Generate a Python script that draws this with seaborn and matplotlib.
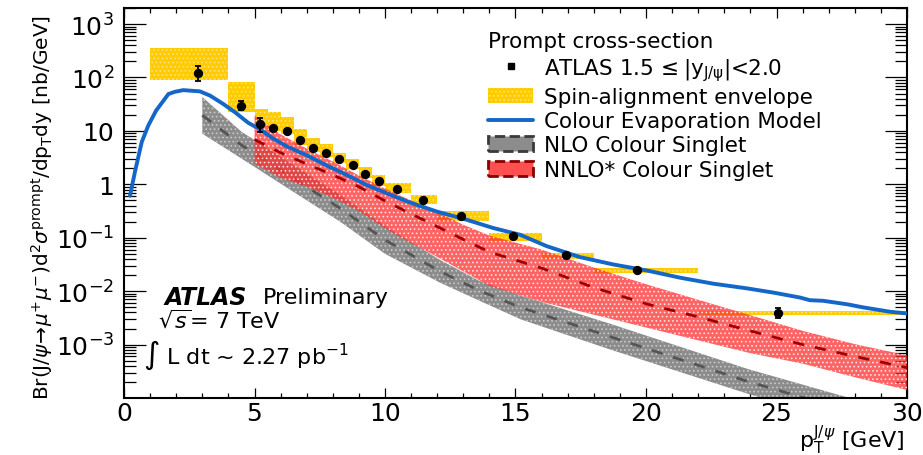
import numpy as np
import matplotlib
matplotlib.use("Agg")
import matplotlib.pyplot as plt
import seaborn as sns
from matplotlib.patches import Patch
from matplotlib.lines import Line2D
from matplotlib.ticker import FixedLocator, FixedFormatter, LogLocator, NullFormatter, MultipleLocator

# ---------------- data ----------------
# ATLAS measurement, 1.5 <= |y| < 2.0
atlas_pt = [2.85, 4.48, 5.21, 5.72, 6.26, 6.74, 7.25, 7.74, 8.25, 8.76, 9.25, 9.76,
            10.47, 11.47, 12.9, 14.92, 16.93, 19.67, 25.07]
atlas_xs = [124, 29.8, 13.6, 11.3, 9.96, 6.66, 4.87, 3.88, 2.92, 2.26, 1.53, 1.15,
            0.83, 0.50, 0.251, 0.107, 0.048, 0.0249, 0.00395]
atlas_lo = [84.6, 24.8, 9.55, 10.7, 9.46, 6.33, 4.63, 3.69, 2.77, 2.15, 1.45, 1.09,
            0.79, 0.475, 0.238, 0.102, 0.0456, 0.0237, 0.00313]
atlas_hi = [161, 35.9, 17.4, 11.9, 10.46, 6.99, 5.11, 4.07, 3.07, 2.37, 1.61, 1.21,
            0.87, 0.525, 0.264, 0.112, 0.0504, 0.0261, 0.0048]

# spin-alignment envelope (bin edges and band limits)
env_left = [1, 4, 5, 5.5, 6, 6.5, 7, 7.5, 8, 8.5, 9, 9.5, 10, 11, 12, 14, 16, 18, 22]
env_right = [4, 5, 5.5, 6, 6.5, 7, 7.5, 8, 8.5, 9, 9.5, 10, 11, 12, 14, 16, 18, 22, 30]
env_lo = [90.6, 22.4, 11.8, 9.96, 8.61, 5.38, 4.05, 3.18, 2.46, 1.90, 1.29, 0.93,
          0.70, 0.425, 0.208, 0.086, 0.040, 0.0215, 0.00356]
env_hi = [363, 83, 25.9, 22.5, 18.1, 10.7, 7.38, 5.61, 3.88, 2.95, 2.07, 1.49,
          1.04, 0.625, 0.311, 0.123, 0.052, 0.0275, 0.0043]

# Colour Evaporation Model
cem_pt = [0.23, 0.42, 0.68, 0.93, 1.23, 1.70, 1.95, 2.27, 2.91, 3.30, 3.80, 4.25, 4.76,
          5.21, 5.72, 6.23, 7.00, 7.77, 8.53, 9.30, 10.07, 10.83, 11.98, 13.13, 14.15,
          15.17, 16.20, 17.47, 18.75, 20.03, 21.30, 22.58, 23.86, 24.88, 25.90, 26.28,
          26.79, 27.69, 28.33, 29.35, 30.0]
cem_xs = [0.61, 1.72, 6.2, 12.6, 24.0, 49, 54, 58, 55, 45.7, 32, 22.4, 14.2,
          10.7, 7.16, 5.15, 3.5, 2.25, 1.5, 0.97, 0.68, 0.48, 0.31, 0.217, 0.152,
          0.114, 0.0695, 0.0434, 0.0316, 0.0244, 0.0179, 0.0138, 0.0113, 0.0094, 0.0076, 0.00678,
          0.0066, 0.0057, 0.00496, 0.00412, 0.00383]

# NLO colour singlet
nlo_pt = [3, 4.5, 6.4, 8.3, 10, 12.1, 13.6, 15.2, 18.7, 23.9, 27.5, 30]
nlo_hi = [43.2, 9.67, 2.46, 0.625, 0.166, 0.0387, 0.0157, 0.00828, 0.00239, 3.49e-4, 1.10e-4, 5.1e-5]
nlo_lo = [8.87, 3.04, 0.773, 0.197, 0.050, 0.0145, 0.00669, 0.00297, 7.87e-4, 1.20e-4, 3.6e-5, 1.5e-5]
nlo_mid = [19.6, 5.42, 1.38, 0.351, 0.091, 0.0236, 0.0103, 0.00496, 0.00137, 2.04e-4, 6.3e-5, 2.8e-5]

# NNLO* colour singlet
nnlo_pt = [5, 6, 7, 8, 9, 10, 11, 12, 13, 14, 16, 18, 20, 22, 24, 26, 28, 30]
nnlo_hi = [19.4, 8.6, 4.67, 2.67, 1.47, 0.83, 0.50, 0.30, 0.175, 0.110, 0.060, 0.0277,
           0.0135, 0.0069, 0.00355, 0.00181, 0.00102, 0.00063]
nnlo_lo = [2.45, 1.32, 0.91, 0.56, 0.316, 0.151, 0.079, 0.0437, 0.0234, 0.0126, 0.0063,
           0.00363, 0.00209, 0.0012, 0.00069, 0.00044, 0.000245, 0.000141]
nnlo_mid = [6.9, 3.9, 2.4, 1.5, 0.9, 0.49, 0.28, 0.162, 0.093, 0.054, 0.027, 0.0117,
            0.0058, 0.0033, 0.0018, 0.0010, 0.00060, 0.00037]

ytick_vals = [1e-3, 1e-2, 1e-1, 1, 10, 1e2, 1e3]
ytick_labels = [r"$10^{-3}$", r"$10^{-2}$", r"$10^{-1}$", "1", "10", r"$10^{2}$", r"$10^{3}$"]

legend_labels = [r"ATLAS 1.5$\,\leq$|y$_{\mathregular{J/\psi}}$|<2.0",
                 "Spin-alignment envelope", "Colour Evaporation Model",
                 "NLO Colour Singlet", "NNLO* Colour Singlet"]

# ---------------- style ----------------
sns.set_theme(style="ticks")
plt.rcParams["font.family"] = ["DejaVu Sans"]
plt.rcParams["mathtext.fontset"] = "dejavusans"
plt.rcParams["hatch.linewidth"] = 0.7
for key in ["text.color", "axes.labelcolor", "xtick.color", "ytick.color", "axes.edgecolor"]:
    plt.rcParams[key] = "black"

YELLOW = "#ffcc00"
BLUE = "#1467c8"
GRAY = "#8c8c8c"
RED = "#ff3030"

fig = plt.figure(figsize=(9.23, 4.56), dpi=100)
ax = fig.add_axes([124 / 923, 1 - 399 / 456, 783 / 923, 390 / 456])
ax.set_yscale("log")

# spin-alignment envelope boxes
widths = np.array(env_right) - np.array(env_left)
heights = np.array(env_hi) - np.array(env_lo)
ax.bar(env_left, heights, bottom=env_lo, width=widths, align="edge",
       color=YELLOW, edgecolor="#ffe27a", hatch="....", linewidth=0, zorder=1)

# NLO band
ax.fill_between(nlo_pt, nlo_lo, nlo_hi, facecolor=GRAY, edgecolor="#c9c9c9",
                hatch="....", linewidth=0, zorder=2)
sns.lineplot(x=nlo_pt, y=nlo_mid, ax=ax, color="#555555", lw=2,
             linestyle=(0, (4, 4)), zorder=2.5)

# NNLO* band
ax.fill_between(nnlo_pt, nnlo_lo, nnlo_hi, facecolor=RED, edgecolor="white",
                hatch="....", linewidth=0, alpha=0.75, zorder=3)
sns.lineplot(x=nnlo_pt, y=nnlo_mid, ax=ax, color="#a00000", lw=2,
             linestyle=(0, (4, 4)), zorder=3.5)

# CEM
sns.lineplot(x=cem_pt, y=cem_xs, ax=ax, color=BLUE, lw=2.8, zorder=5)

# data
yerr = [np.array(atlas_xs) - np.array(atlas_lo), np.array(atlas_hi) - np.array(atlas_xs)]
ax.errorbar(atlas_pt, atlas_xs, yerr=yerr, fmt="none", ecolor="black",
            elinewidth=1.3, capsize=2.5, capthick=1.3, zorder=6)
sns.scatterplot(x=atlas_pt, y=atlas_xs, ax=ax, color="black", marker="o", s=45,
                linewidth=0, zorder=7)

ax.set_xlim(0, 30)
ax.set_ylim(1e-4, 2e3)

# ticks
ax.xaxis.set_major_locator(MultipleLocator(5))
ax.xaxis.set_minor_locator(MultipleLocator(1))
ax.yaxis.set_major_locator(FixedLocator(ytick_vals))
ax.yaxis.set_major_formatter(FixedFormatter(ytick_labels))
ax.yaxis.set_minor_locator(LogLocator(base=10, subs=np.arange(2, 10), numticks=30))
ax.yaxis.set_minor_formatter(NullFormatter())
ax.tick_params(which="both", direction="in", top=True, right=True, color="black",
               labelcolor="black")
ax.tick_params(axis="x", which="major", length=7.5, width=0.9, labelsize=18, pad=2)
ax.tick_params(axis="x", which="minor", length=3.8, width=0.9)
ax.tick_params(axis="y", which="major", length=16, width=0.9, labelsize=18, pad=7)
ax.tick_params(axis="y", which="minor", length=8.5, width=0.9)
for s in ax.spines.values():
    s.set_color("black")
    s.set_linewidth(1.5)
ax.grid(False)

# axis labels
ax.set_ylabel(r"Br(J/$\psi\!\rightarrow\!\mu^{+}\mu^{-}$)d$^{2}\sigma^{\mathrm{prompt}}$/dp$_{\mathrm{T}}$dy [nb/GeV]",
              fontsize=14.5, color="black")
ax.yaxis.set_label_coords(-0.088, 0.49)
ax.set_xlabel(r"p$_{\mathrm{T}}^{\mathrm{J/}\psi}$ [GeV]", fontsize=16, loc="right", color="black")
ax.xaxis.set_label_coords(0.997, -0.063)

# annotations
ax.text(0.052, 0.259, "ATLAS", transform=ax.transAxes, fontsize=17, fontweight="bold",
        fontstyle="italic", va="center", ha="left")
ax.text(0.177, 0.259, "Preliminary", transform=ax.transAxes, fontsize=16, va="center", ha="left")
ax.text(0.043, 0.203, r"$\sqrt{s}$= 7 TeV", transform=ax.transAxes, fontsize=16,
        va="center", ha="left")
ax.text(0.024, 0.113, r"$\int$ L dt ~ 2.27 pb$^{\mathregular{-1}}$", transform=ax.transAxes,
        fontsize=16, va="center", ha="left")

# legend
handles = [
    Line2D([], [], marker="s", color="black", linestyle="none", markersize=5),
    Patch(facecolor=YELLOW, edgecolor="#ffe27a", hatch="....", linewidth=0),
    Line2D([], [], color=BLUE, lw=2.8),
    Patch(facecolor=GRAY, edgecolor="#3a3a3a", linestyle="--", linewidth=2),
    Patch(facecolor="#ff5050", edgecolor="#8b0000", linestyle="--", linewidth=2),
]
leg = ax.legend(handles, legend_labels, title="Prompt cross-section", loc="upper left",
                bbox_to_anchor=(0.465, 0.94), frameon=False, fontsize=15.5,
                title_fontsize=15.5, handlelength=2.1, handleheight=0.7,
                handletextpad=0.5, labelspacing=0.2, borderpad=0, borderaxespad=0,
                alignment="left")
for t in leg.get_texts():
    t.set_color("black")
leg.get_title().set_color("black")

fig.savefig("out.png", dpi=100)
